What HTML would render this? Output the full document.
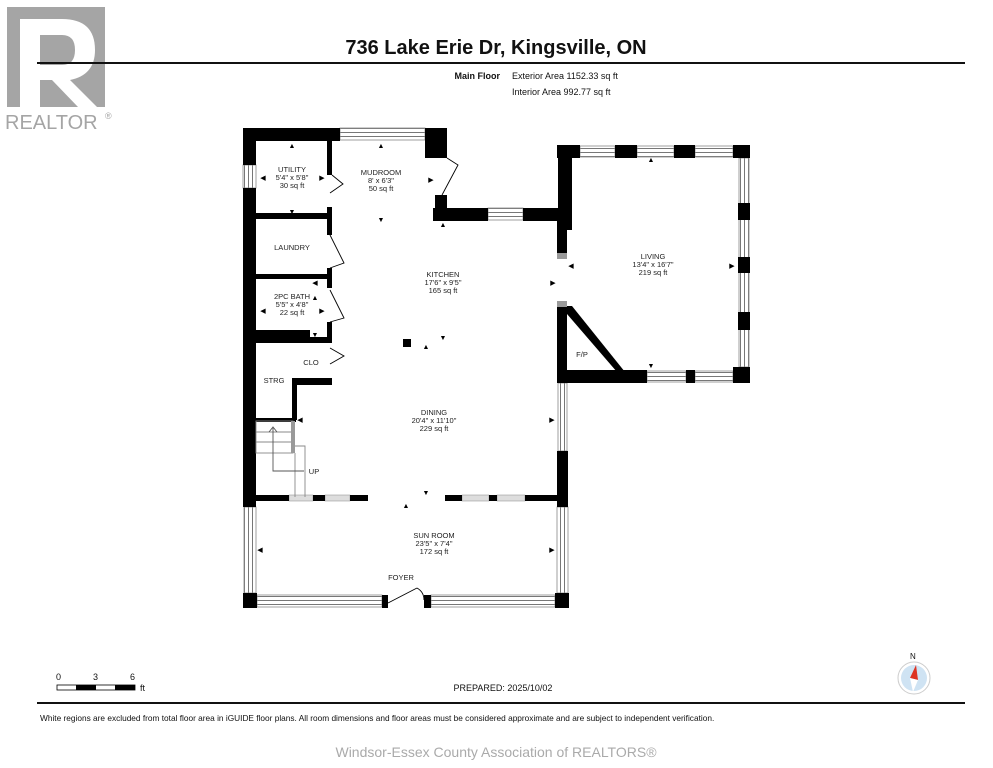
<!DOCTYPE html>
<html><head><meta charset="utf-8"><style>
body{margin:0;background:#fff;}
svg{display:block;font-family:"Liberation Sans",sans-serif;}
</style></head><body>
<svg width="993" height="768" viewBox="0 0 993 768" xmlns="http://www.w3.org/2000/svg">
<defs>
<pattern id="wh" width="4" height="4" patternUnits="userSpaceOnUse"><rect width="4" height="4" fill="#fff"/><rect y="0" width="4" height="1" fill="#777"/></pattern>
<pattern id="wv" width="4" height="4" patternUnits="userSpaceOnUse"><rect width="4" height="4" fill="#fff"/><rect x="0" width="1" height="4" fill="#777"/></pattern>
</defs>
<rect width="993" height="768" fill="#fff"/>
<!-- logo -->
<rect x="7" y="7" width="98" height="100" fill="#a5a5a5"/>
<path d="M20 19 H62 Q95 19 95 50 Q95 75 70 80 L97 107 H78 L52 80 H40 V107 H20 Z M40 35 V65 H62 Q75 65 75 50 Q75 35 62 35 Z" fill="#fff"/>
<text x="5" y="129" font-size="20" fill="#a5a5a5">REALTOR</text><text x="105" y="119" font-size="9" fill="#a5a5a5">®</text>
<!-- header -->
<text x="496" y="54" font-size="20" font-weight="bold" text-anchor="middle" fill="#111">736 Lake Erie Dr, Kingsville, ON</text>
<rect x="37" y="62" width="928" height="2" fill="#111"/>
<text x="500" y="79" font-size="9" font-weight="bold" text-anchor="end" fill="#111">Main Floor</text>
<text x="512" y="79" font-size="9" fill="#111">Exterior Area 1152.33 sq ft</text>
<text x="512" y="95" font-size="9" fill="#111">Interior Area 992.77 sq ft</text>

<!-- windows (drawn first) -->
<rect x="340" y="128" width="85" height="12" fill="url(#wh)" stroke="#888" stroke-width="0.8"/>
<rect x="243" y="165" width="13" height="23" fill="url(#wv)" stroke="#888" stroke-width="0.8"/>
<rect x="488" y="208" width="35" height="12" fill="url(#wh)" stroke="#888" stroke-width="0.8"/>
<rect x="580" y="146" width="35" height="11" fill="url(#wh)" stroke="#888" stroke-width="0.8"/>
<rect x="637" y="146" width="37" height="11" fill="url(#wh)" stroke="#888" stroke-width="0.8"/>
<rect x="695" y="146" width="38" height="11" fill="url(#wh)" stroke="#888" stroke-width="0.8"/>
<rect x="739" y="158" width="10" height="209" fill="url(#wv)" stroke="#888" stroke-width="0.8"/>
<rect x="647" y="371" width="39" height="11" fill="url(#wh)" stroke="#888" stroke-width="0.8"/>
<rect x="695" y="371" width="38" height="11" fill="url(#wh)" stroke="#888" stroke-width="0.8"/>
<rect x="558" y="383" width="9" height="68" fill="url(#wv)" stroke="#888" stroke-width="0.8"/>
<rect x="289" y="495" width="24" height="6" fill="#ddd" stroke="#888" stroke-width="0.5"/>
<rect x="325" y="495" width="25" height="6" fill="#ddd" stroke="#888" stroke-width="0.5"/>
<rect x="462" y="495" width="27" height="6" fill="#ddd" stroke="#888" stroke-width="0.5"/>
<rect x="497" y="495" width="28" height="6" fill="#ddd" stroke="#888" stroke-width="0.5"/>
<rect x="244" y="507" width="12" height="86" fill="url(#wv)" stroke="#888" stroke-width="0.8"/>
<rect x="557" y="507" width="11" height="86" fill="url(#wv)" stroke="#888" stroke-width="0.8"/>
<rect x="257" y="595" width="125" height="12" fill="url(#wh)" stroke="#888" stroke-width="0.8"/>
<rect x="431" y="595" width="124" height="12" fill="url(#wh)" stroke="#888" stroke-width="0.8"/>

<g fill="#000">
<rect x="243" y="128" width="13" height="37"/>
<rect x="243" y="188" width="13" height="319"/>
<rect x="243" y="128" width="97" height="13"/>
<rect x="425" y="128" width="22" height="30"/>
<rect x="435" y="195" width="12" height="25"/>
<rect x="433" y="208" width="55" height="13"/>
<rect x="523" y="208" width="37" height="13"/>
<rect x="558" y="145" width="14" height="85"/>
<rect x="557" y="145" width="23" height="13"/>
<rect x="557" y="220" width="10" height="33"/>
<rect x="615" y="145" width="22" height="13"/>
<rect x="674" y="145" width="21" height="13"/>
<rect x="733" y="145" width="17" height="13"/>
<rect x="738" y="145" width="12" height="13"/>
<rect x="738" y="203" width="12" height="17"/>
<rect x="738" y="257" width="12" height="16"/>
<rect x="738" y="312" width="12" height="18"/>
<rect x="733" y="367" width="17" height="16"/>
<rect x="557" y="370" width="90" height="13"/>
<rect x="686" y="370" width="9" height="13"/>
<rect x="557" y="307" width="10" height="76"/>
<rect x="557" y="451" width="11" height="56"/>
<rect x="256" y="495" width="33" height="6"/>
<rect x="313" y="495" width="12" height="6"/>
<rect x="350" y="495" width="18" height="6"/>
<rect x="445" y="495" width="17" height="6"/>
<rect x="489" y="495" width="8" height="6"/>
<rect x="525" y="495" width="32" height="6"/>
<rect x="243" y="593" width="14" height="15"/>
<rect x="555" y="593" width="14" height="15"/>
<rect x="382" y="595" width="6" height="13"/>
<rect x="424" y="595" width="7" height="13"/>
<rect x="327" y="141" width="5" height="34"/>
<rect x="256" y="213" width="74" height="6"/>
<rect x="327" y="207" width="5" height="28"/>
<rect x="256" y="274" width="74" height="5"/>
<rect x="327" y="268" width="5" height="20"/>
<rect x="256" y="330" width="54" height="13"/>
<rect x="310" y="337" width="20" height="6"/>
<rect x="327" y="322" width="5" height="21"/>
<rect x="292" y="378" width="40" height="7"/>
<rect x="292" y="378" width="5" height="42"/>
<rect x="256" y="418" width="40" height="4"/>
<rect x="403" y="339" width="8" height="8"/>
<polygon points="567,306 572,306 625,372 617,372 567,314"/>
</g>
<rect x="557" y="253" width="10" height="6" fill="#999"/>
<rect x="557" y="301" width="10" height="6" fill="#999"/>
<g fill="none" stroke="#000" stroke-width="0.9">
<polyline points="447,158 458,165 442,195"/>
<polyline points="332,175 343,184 330,193"/>
<polyline points="330,235 344,263 330,268"/>
<polyline points="330,290 344,318 330,322"/>
<polyline points="330,348 344,356 330,364"/>
<polyline points="388,603 417,588"/>
<path d="M417,588 Q424,592 424,600"/>
<rect x="256" y="421" width="37" height="32" stroke="#888"/>
<line x1="256" y1="432" x2="293" y2="432" stroke="#888"/>
<line x1="256" y1="442" x2="293" y2="442" stroke="#888"/>
<polyline points="295,446 305,446 305,497" stroke="#888"/>
<line x1="295" y1="453" x2="295" y2="497" stroke="#888"/>
<polyline points="304,471 273,471 273,428" stroke="#555"/>
<polyline points="269,432 273,427 277,432" stroke="#555"/>
</g>
<rect x="291" y="421" width="4" height="32" fill="#999"/>
<g font-size="7.5" fill="#222" text-anchor="middle">
<text x="292" y="172">UTILITY</text><text x="292" y="180">5'4" x 5'8"</text><text x="292" y="188">30 sq ft</text>
<text x="381" y="175">MUDROOM</text><text x="381" y="183">8' x 6'3"</text><text x="381" y="191">50 sq ft</text>
<text x="292" y="250">LAUNDRY</text>
<text x="443" y="277">KITCHEN</text><text x="443" y="285">17'6" x 9'5"</text><text x="443" y="293">165 sq ft</text>
<text x="292" y="299">2PC BATH</text><text x="292" y="307">5'5" x 4'8"</text><text x="292" y="315">22 sq ft</text>
<text x="311" y="365">CLO</text>
<text x="274" y="383">STRG</text>
<text x="434" y="415">DINING</text><text x="434" y="423">20'4" x 11'10"</text><text x="434" y="431">229 sq ft</text>
<text x="314" y="474">UP</text>
<text x="434" y="538">SUN ROOM</text><text x="434" y="546">23'5" x 7'4"</text><text x="434" y="554">172 sq ft</text>
<text x="401" y="580">FOYER</text>
<text x="653" y="259">LIVING</text><text x="653" y="267">13'4" x 16'7"</text><text x="653" y="275">219 sq ft</text>
<text x="582" y="357">F/P</text>
</g>
<g fill="#000" font-size="7" text-anchor="middle">
<text x="292" y="148">▲</text><text x="381" y="148">▲</text><text x="292" y="214">▼</text><text x="381" y="222">▼</text>
<text x="263" y="180">◀</text><text x="322" y="180">▶</text><text x="431" y="182">▶</text>
<text x="443" y="227">▲</text><text x="443" y="340">▼</text><text x="315" y="285">◀</text><text x="553" y="285">▶</text>
<text x="315" y="300">▲</text><text x="263" y="313">◀</text><text x="322" y="313">▶</text><text x="315" y="337">▼</text><text x="426" y="349">▲</text>
<text x="300" y="422">◀</text><text x="552" y="422">▶</text><text x="426" y="495">▼</text><text x="406" y="508">▲</text>
<text x="260" y="552">◀</text><text x="552" y="552">▶</text><text x="571" y="268">◀</text><text x="732" y="268">▶</text>
<text x="651" y="162">▲</text><text x="651" y="368">▼</text>
</g>
<g font-size="9" fill="#111">
<text x="56" y="680">0</text><text x="93" y="680">3</text><text x="130" y="680">6</text><text x="140" y="691">ft</text>
</g>
<rect x="57" y="685" width="78" height="5" fill="#fff" stroke="#000" stroke-width="0.8"/>
<rect x="76" y="685" width="20" height="5" fill="#000"/><rect x="115" y="685" width="20" height="5" fill="#000"/>
<text x="503" y="691" font-size="9" fill="#111" text-anchor="middle">PREPARED: 2025/10/02</text>
<circle cx="914" cy="678" r="16" fill="#fff" stroke="#ccc"/>
<circle cx="914" cy="678" r="13" fill="#cfe3f3"/>
<polygon points="916,665 918,680 910,678" fill="#d32"/>
<polygon points="910,678 918,680 913,692" fill="#fff"/>
<text x="910" y="659" font-size="8" fill="#111">N</text>
<rect x="37" y="702" width="928" height="2" fill="#111"/>
<text x="40" y="721" font-size="8.3" fill="#111">White regions are excluded from total floor area in iGUIDE floor plans. All room dimensions and floor areas must be considered approximate and are subject to independent verification.</text>
<text x="496" y="757" font-size="14" fill="#aaa" text-anchor="middle">Windsor-Essex County Association of REALTORS®</text>
</svg>
</body></html>
